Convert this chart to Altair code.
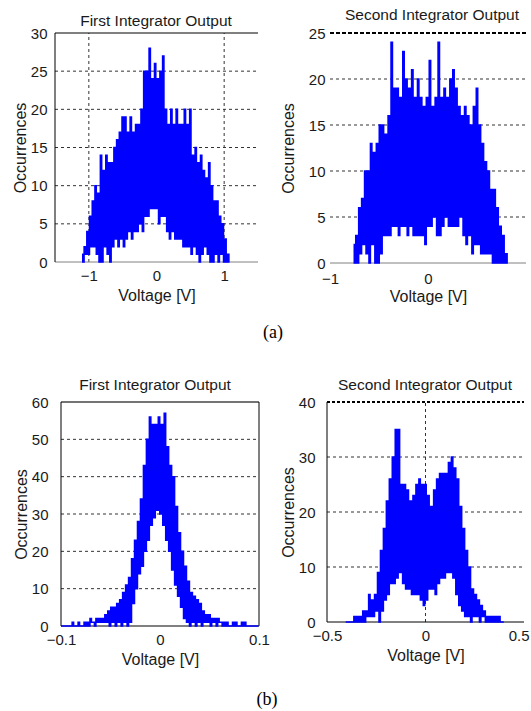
import altair as alt
import pandas as pd

# ---------------- data (histogram counts) ----------------
# (a) First integrator output, bins of 0.02 V starting at -1.10 V
a1_start, a1_step = -1.10, 0.02
a1_counts = [1, 0, 2, 1, 4, 1, 6, 2, 8, 2, 10, 1, 9, 0, 14, 0, 12, 2, 14, 1,
             13, 0, 13, 2, 15, 3, 16, 2, 17, 3, 19, 2, 19, 3, 17, 4, 19, 3, 17, 4,
             18, 4, 18, 5, 20, 4, 25, 6, 25, 6, 28, 7, 24, 7, 26, 7, 24, 5, 25, 6,
             27, 6, 20, 4, 18, 3, 20, 4, 18, 3, 20, 3, 18, 3, 18, 2, 20, 2, 18, 2,
             20, 1, 14, 2, 15, 1, 13, 0, 14, 1, 12, 2, 11, 1, 13, 0, 10, 0, 8, 1,
             8, 0, 6, 1, 5, 0, 3, 0, 1, 0]

# (a) Second integrator output, bins of 0.015 V starting at -0.76 V
a2_start, a2_step = -0.76, 0.015
a2_counts = [2, 0, 3, 0, 6, 1, 7, 2, 10, 1, 10, 0, 13, 2, 12, 0, 13, 0, 15, 1,
             15, 3, 14, 3, 16, 3, 24, 4, 19, 4, 19, 3, 18, 4, 23, 4, 20, 3, 19, 4,
             21, 3, 18, 3, 20, 3, 18, 3, 17, 2, 18, 4, 22, 4, 17, 5, 18, 3, 24, 3,
             18, 4, 19, 5, 18, 4, 20, 4, 21, 4, 19, 4, 17, 5, 16, 3, 17, 2, 16, 3,
             15, 1, 17, 2, 19, 2, 15, 1, 13, 1, 11, 1, 10, 1, 8, 0, 8, 0, 6, 0,
             4, 0, 3, 0, 1, 0]

# (b) First integrator output, bins of 0.0015 V starting at -0.1 V
b1_start, b1_step = -0.10, 0.0015
b1_counts = [0, 0, 0, 0, 0, 0, 0, 0,
             1, 0, 0, 0, 1, 0, 0, 0, 1, 0, 1, 0, 2, 1, 1, 0, 2, 1, 2, 1, 2, 1,
             3, 1, 4, 0, 5, 1, 5, 0, 6, 1, 7, 0, 9, 1, 11, 0, 13, 1, 18, 6,
             23, 10, 28, 14, 34, 16, 43, 20, 50, 23, 56, 27, 54, 29, 54, 31, 56, 30, 54, 27,
             57, 23, 48, 20, 43, 15, 40, 11, 32, 8, 25, 5, 20, 2, 16, 1, 12, 0, 9, 1,
             8, 0, 7, 1, 6, 0, 4, 1, 3, 1, 3, 0, 2, 1, 2, 0, 2, 1, 1, 0,
             1, 0, 1, 0, 0, 0, 1, 0, 1, 0, 0, 0, 1, 0, 1, 0, 0, 0,
             0, 0, 0, 0, 0, 0]

# (b) Second integrator output, bins of 0.0075 V starting at -0.405 V
b2_start, b2_step = -0.405, 0.0075
b2_counts = [0, 0, 0, 0, 0, 0, 1, 0, 1, 0, 1, 0, 2, 0, 2, 1, 5, 1, 4, 1,
             5, 2, 9, 0, 13, 2, 17, 4, 22, 5, 26, 7, 30, 7, 35, 8, 35, 9, 25, 7,
             25, 6, 24, 6, 22, 5, 23, 5, 25, 5, 26, 4, 25, 3, 25, 4, 23, 6, 21, 6,
             24, 5, 26, 7, 27, 8, 27, 8, 27, 9, 29, 9, 30, 8, 28, 5, 26, 3, 21, 2,
             17, 1, 13, 1, 10, 0, 6, 1, 5, 1, 4, 0, 3, 1, 2, 0, 1, 0, 1, 0,
             1, 0, 1, 0, 1, 0, 0, 0]

titles = ["First Integrator Output", "Second Integrator Output",
          "First Integrator Output", "Second Integrator Output"]
x_title = "Voltage [V]"
y_title = "Occurrences"
captions = ["(a)", "(b)"]

# ---------------- styling ----------------
W, H = 531, 711
FONT = "Liberation Sans"
SERIF = "Liberation Serif"
BLUE = "#0000ff"
TXT = "#1a1a1a"
GRID = "#333333"


def table(start, step, counts):
    return pd.DataFrame({"v": [round(start + step * i, 6) for i in range(len(counts))],
                         "n": counts})


def hrule(values, xs, ys, xdom, **mk):
    return alt.Chart(pd.DataFrame({"g": values})).mark_rule(**mk).encode(
        y=alt.Y("g:Q", scale=ys, axis=None),
        x=alt.XDatum(xdom[0], type="quantitative", scale=xs, axis=None),
        x2=alt.X2Datum(xdom[1]),
    )


def vrule(values, xs, ys, ydom, **mk):
    return alt.Chart(pd.DataFrame({"g": values})).mark_rule(**mk).encode(
        x=alt.X("g:Q", scale=xs, axis=None),
        y=alt.YDatum(ydom[0], type="quantitative", scale=ys, axis=None),
        y2=alt.Y2Datum(ydom[1]),
    )


def panel(df, xdom, xrng, ydom, yrng, xticks, xfmt, ystep,
          gy, gx, ylabpad, ytitlepad, extra, xlabpad=6, xtitlepad=4):
    xs = alt.Scale(domain=xdom, range=xrng, nice=False, zero=False)
    ys = alt.Scale(domain=ydom, range=yrng, nice=False, zero=False)
    yvals = list(range(ydom[0], ydom[1] + 1, ystep))
    last = max(xticks)
    edge_label = xdom[1] == last and xrng[1] > W - 12
    xaxis_kw = dict(
        orient="bottom", offset=yrng[0] - H, values=xticks, format=xfmt,
        title=x_title, grid=False, ticks=False, labelFlush=False, domain=False,
        labelPadding=xlabpad, titlePadding=xtitlepad)
    if edge_label:
        xaxis_kw["labelAlign"] = {"condition": {"test": f"datum.value >= {last}", "value": "right"},
                                  "value": "center"}
        xaxis_kw["labelOffset"] = {"condition": {"test": f"datum.value >= {last}", "value": 5},
                                   "value": 0}
    line = alt.Chart(df).mark_line(interpolate="step", color=BLUE, strokeWidth=1.5).encode(
        x=alt.X("v:Q", scale=xs, axis=alt.Axis(**xaxis_kw)),
        y=alt.Y("n:Q", scale=ys, axis=alt.Axis(
            orient="left", offset=-xrng[0], values=yvals, format="d",
            title=y_title, grid=False, ticks=False, domain=False,
            labelPadding=ylabpad, titlePadding=ytitlepad)),
    )
    layers = []
    if gy:
        layers.append(hrule(gy, xs, ys, xdom, color=GRID, strokeDash=[3, 3], strokeWidth=1))
    if gx:
        layers.append(vrule(gx, xs, ys, ydom, color=GRID, strokeDash=[3, 3], strokeWidth=1))
    for kind, vals, mk in extra:
        if kind == "h":
            layers.append(hrule(vals, xs, ys, xdom, **mk))
        else:
            layers.append(vrule(vals, xs, ys, ydom, **mk))
    layers.append(line)
    return layers


SOLID = dict(color="#000000", strokeWidth=1)
GRAYLINE = dict(color="#808080", strokeWidth=1)

p1 = panel(table(a1_start, a1_step, a1_counts), [-1.5, 1.5], [55, 258], [0, 30], [262, 33],
           [-1, 0, 1], "d", 5, [5, 10, 15, 20, 25], [-1, 1], 8, 2,
           [("h", [30], SOLID), ("h", [0], GRAYLINE), ("v", [-1.5], SOLID)])
p2 = panel(table(a2_start, a2_step, a2_counts), [-1, 1], [330, 526], [0, 25], [263, 33],
           [-1, 0], "d", 5, [5, 10, 15, 20], None, 5, 12,
           [("h", [25], dict(color="#000000", strokeWidth=2, strokeDash=[4, 2])),
            ("h", [0], GRAYLINE)], xlabpad=8, xtitlepad=2)
p3 = panel(table(b1_start, b1_step, b1_counts), [-0.1, 0.1], [61, 259], [0, 60], [626, 402],
           [-0.1, 0, 0.1], ".1~f", 10, [10, 20, 30, 40, 50], None, 13, 2,
           [("h", [60], dict(color="#444444", strokeWidth=1.5)), ("h", [0], SOLID),
            ("v", [-0.1, 0.1], SOLID)])
p4 = panel(table(b2_start, b2_step, b2_counts), [-0.5, 0.5], [327, 524], [0, 40], [622, 402],
           [-0.5, 0, 0.5], ".1~f", 10, [10, 20, 30], [0], 12, 2,
           [("h", [40], dict(color="#000000", strokeWidth=2, strokeDash=[3, 2])),
            ("h", [0], SOLID), ("v", [-0.5], SOLID)])

title_pos = [(156, 21), (432, 15), (155, 385), (425, 385)]
title_layers = [
    alt.Chart(pd.DataFrame({"t": [t]})).mark_text(
        font=FONT, fontSize=15.5, color=TXT, baseline="middle", align="center"
    ).encode(text="t:N", x=alt.value(px), y=alt.value(py))
    for t, (px, py) in zip(titles, title_pos)
]
cap_pos = [(273, 333), (267, 700)]
cap_layers = [
    alt.Chart(pd.DataFrame({"t": [c]})).mark_text(
        font=SERIF, fontSize=18, color="#000000", baseline="middle", align="center"
    ).encode(text="t:N", x=alt.value(px), y=alt.value(py))
    for c, (px, py) in zip(captions, cap_pos)
]

chart = alt.layer(*p1, *p2, *p3, *p4, *title_layers, *cap_layers).resolve_scale(
    x="independent", y="independent"
).properties(
    width=W, height=H, padding=0, autosize=alt.AutoSizeParams(type="none"),
    background="white",
).configure_view(stroke=None).configure_axis(
    labelFont=FONT, titleFont=FONT, labelFontSize=15, titleFontSize=16,
    labelColor=TXT, titleColor=TXT, titleFontWeight="normal",
)

chart.save("out.html", embed_options={"renderer": "svg", "actions": False})
